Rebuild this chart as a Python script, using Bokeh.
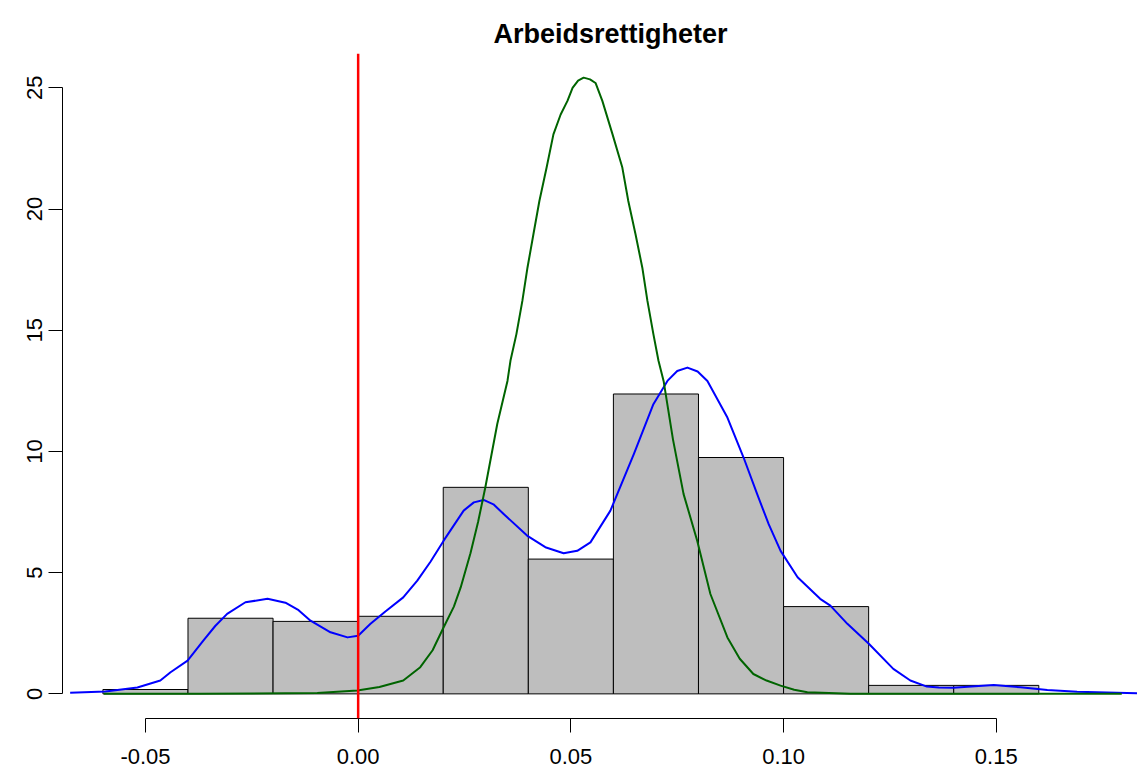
from bokeh.plotting import figure
from bokeh.models import Range1d, LinearAxis, FixedTicker, Span, NumeralTickFormatter
from bokeh.embed import file_html
from bokeh.resources import INLINE

# Histogram (density scale), bin width 0.02
bin_edges = [-0.06, -0.04, -0.02, 0.00, 0.02, 0.04, 0.06, 0.08, 0.10, 0.12, 0.14, 0.16]
bin_density = [0.18, 3.12, 2.99, 3.20, 8.52, 5.56, 12.37, 9.75, 3.60, 0.35, 0.35]

# Kernel density estimate of the observed values
kde_x = [-0.0677, -0.0594, -0.0519, -0.0465, -0.0441, -0.0401, -0.0364, -0.0336,
         -0.0308, -0.0265, -0.0213, -0.0171, -0.0140, -0.0112, -0.0065, -0.0025,
         0.0000, 0.0029, 0.0064, 0.0106, 0.0139, 0.0170, 0.0201, 0.0248,
         0.0272, 0.0295, 0.0318, 0.0342, 0.0397, 0.0440, 0.0483, 0.0515,
         0.0546, 0.0593, 0.0648, 0.0694, 0.0727, 0.0750, 0.0774, 0.0798,
         0.0821, 0.0868, 0.0906, 0.0938, 0.0965, 0.0993, 0.1033, 0.1086,
         0.1110, 0.1150, 0.1201, 0.1258, 0.1298, 0.1337, 0.1365, 0.1399,
         0.1450, 0.1494, 0.1557, 0.1620, 0.1690, 0.1832]
kde_y = [0.05, 0.10, 0.26, 0.55, 0.89, 1.37, 2.20, 2.80,
         3.30, 3.78, 3.92, 3.76, 3.45, 3.02, 2.54, 2.33,
         2.40, 2.89, 3.40, 3.98, 4.67, 5.45, 6.32, 7.56,
         7.90, 8.00, 7.82, 7.42, 6.53, 6.05, 5.80, 5.90,
         6.25, 7.56, 9.89, 11.95, 12.91, 13.32, 13.46, 13.30,
         12.91, 11.40, 9.75, 8.24, 7.00, 5.90, 4.81, 3.92,
         3.64, 2.89, 2.06, 1.03, 0.55, 0.30, 0.26, 0.25,
         0.31, 0.37, 0.27, 0.16, 0.09, 0.02]

# Density of the reference distribution
ref_x = [-0.0598, -0.0371, -0.0096, -0.0002, 0.0050, 0.0106, 0.0146, 0.0175,
         0.0201, 0.0225, 0.0241, 0.0264, 0.0282, 0.0299, 0.0327, 0.0351,
         0.0358, 0.0372, 0.0386, 0.0398, 0.0412, 0.0426, 0.0443, 0.0459,
         0.0476, 0.0492, 0.0504, 0.0517, 0.0530, 0.0545, 0.0558, 0.0574,
         0.0598, 0.0621, 0.0635, 0.0652, 0.0668, 0.0680, 0.0694, 0.0706,
         0.0718, 0.0740, 0.0765, 0.0797, 0.0828, 0.0868, 0.0897, 0.0929,
         0.0960, 0.0993, 0.1025, 0.1056, 0.1157, 0.1795]
ref_y = [0.0, 0.0, 0.04, 0.14, 0.28, 0.55, 1.10, 1.80,
         2.75, 3.60, 4.39, 5.80, 7.10, 8.52, 11.13, 12.91,
         13.74, 14.84, 16.21, 17.58, 18.96, 20.33, 21.71, 23.08,
         23.90, 24.46, 25.00, 25.30, 25.42, 25.35, 25.20, 24.46,
         23.08, 21.71, 20.33, 18.96, 17.58, 16.21, 14.84, 13.74,
         12.91, 10.50, 8.24, 6.32, 4.12, 2.33, 1.45, 0.82,
         0.55, 0.34, 0.17, 0.07, 0.0, 0.0]

x_ticks = [-0.05, 0.0, 0.05, 0.10, 0.15]
y_ticks = [0, 5, 10, 15, 20, 25]

FONT = "Liberation Sans"

p = figure(width=1137, height=771, output_backend="svg", toolbar_location=None,
           x_range=Range1d(-0.0695, 0.1832), y_range=Range1d(-1.016, 26.416),
           x_axis_type=None, y_axis_type=None,
           min_border_left=62, min_border_right=0,
           min_border_top=53, min_border_bottom=53,
           title="Arbeidsrettigheter")
p.outline_line_color = None
p.background_fill_color = "white"
p.border_fill_color = "white"

p.title.text_font = FONT
p.title.text_font_size = "27px"
p.title.text_font_style = "bold"
p.title.text_color = "black"
p.title.align = "left"
p.title.offset = 431

# Histogram bars
p.quad(left=bin_edges[:-1], right=bin_edges[1:], bottom=0, top=bin_density,
       fill_color="#BEBEBE", line_color="black", line_width=1)

# Density curves
p.line(kde_x, kde_y, line_color="blue", line_width=2, line_join="round")
p.line(ref_x, ref_y, line_color="#006400", line_width=2, line_join="round")

# Zero reference line
p.add_layout(Span(location=0, dimension="height", line_color="red", line_width=2.5))


def style_axis(ax):
    ax.axis_line_color = "black"
    ax.axis_line_width = 1
    ax.major_tick_line_color = "black"
    ax.major_tick_out = 14
    ax.major_tick_in = 0
    ax.minor_tick_line_color = None
    ax.major_label_text_font = FONT
    ax.major_label_text_font_size = "22px"
    ax.major_label_text_color = "black"


xaxis = LinearAxis(ticker=FixedTicker(ticks=x_ticks), bounds=(x_ticks[0], x_ticks[-1]),
                   formatter=NumeralTickFormatter(format="0.00"))
style_axis(xaxis)
xaxis.major_label_standoff = 16
p.add_layout(xaxis, "below")

yaxis = LinearAxis(ticker=FixedTicker(ticks=y_ticks), bounds=(y_ticks[0], y_ticks[-1]),
                   formatter=NumeralTickFormatter(format="0"))
style_axis(yaxis)
yaxis.major_label_orientation = "parallel"
yaxis.major_label_standoff = 6
p.add_layout(yaxis, "left")

open("out.html", "w").write(file_html(p, INLINE))
